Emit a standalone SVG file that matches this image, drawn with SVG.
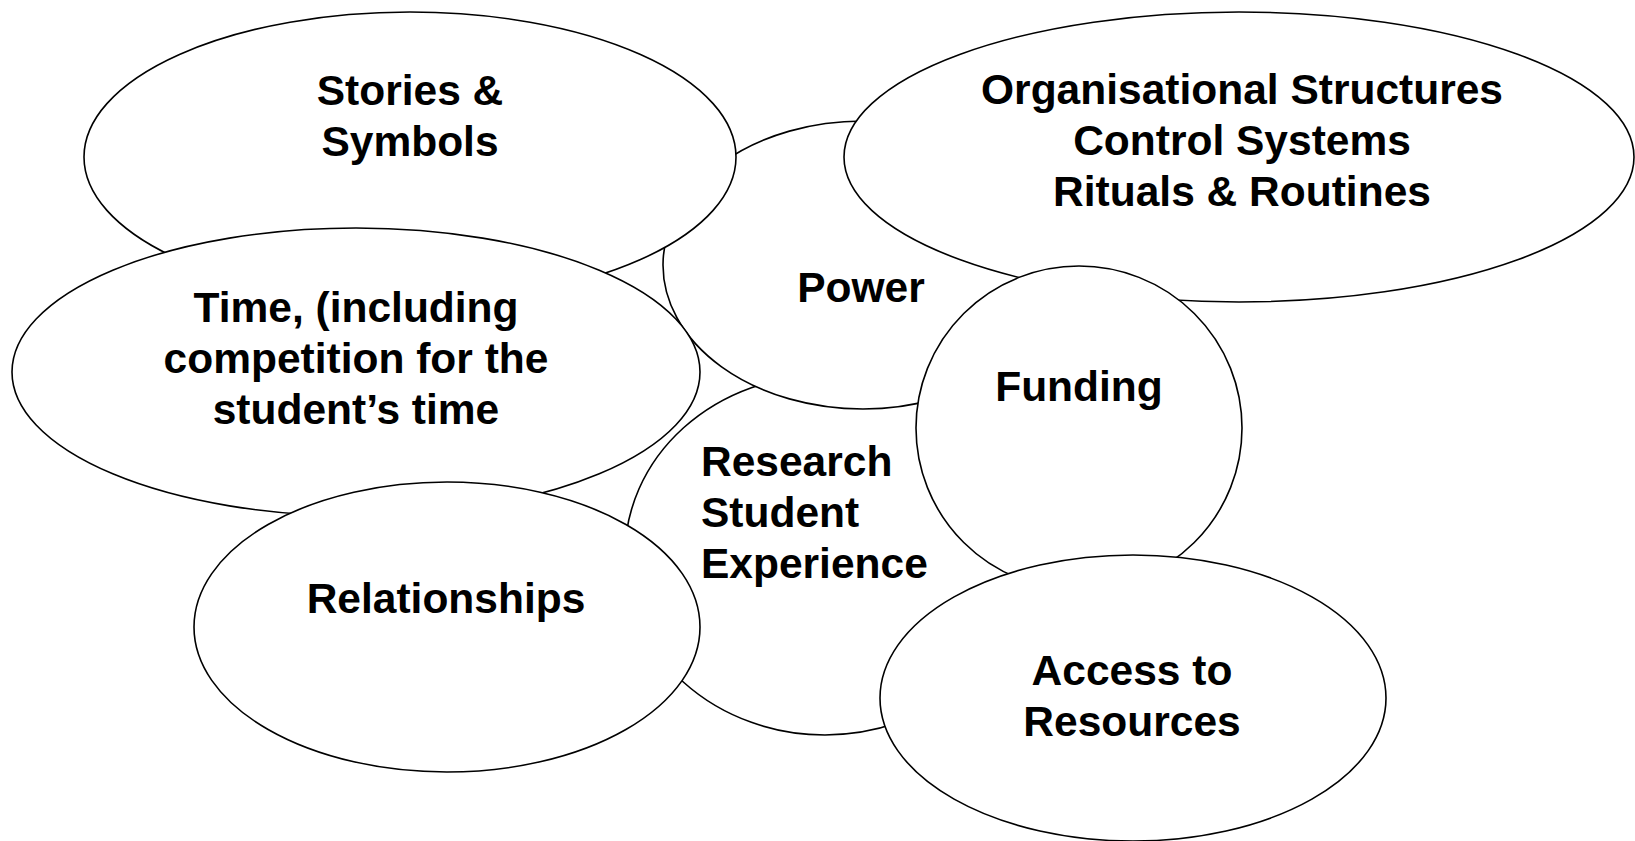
<svg xmlns="http://www.w3.org/2000/svg" width="1635" height="841" viewBox="0 0 1635 841">
<style>
.n{fill:#fff;stroke:#000;stroke-width:1.6}
.t{font-family:"Liberation Sans",Arial,sans-serif;font-weight:bold;font-size:42.5px;fill:#000;text-anchor:middle}
.l{text-anchor:start}
</style>
<rect width="1635" height="841" fill="#fff"/>
<g id="research">
<ellipse class="n" cx="825" cy="555" rx="200" ry="180"/>
</g>
<g id="power">
<ellipse class="n" cx="863" cy="265" rx="200" ry="144"/>
<text class="t" x="861" y="302">Power</text>
</g>
<g id="stories">
<ellipse class="n" cx="410" cy="157" rx="326" ry="145"/>
<text class="t" x="410" y="105">Stories &amp;</text>
<text class="t" x="410" y="156">Symbols</text>
</g>
<g id="org">
<ellipse class="n" cx="1239" cy="157" rx="395" ry="145"/>
<text class="t" x="1242" y="104">Organisational Structures</text>
<text class="t" x="1242" y="155">Control Systems</text>
<text class="t" x="1242" y="206">Rituals &amp; Routines</text>
</g>
<g id="time">
<ellipse class="n" cx="356" cy="372" rx="344" ry="144"/>
<text class="t" x="356" y="322">Time, (including</text>
<text class="t" x="356" y="373">competition for the</text>
<text class="t" x="356" y="424">student’s time</text>
</g>
<g id="funding">
<ellipse class="n" cx="1079" cy="428" rx="163" ry="162"/>
<text class="t" x="1079" y="401">Funding</text>
</g>
<g id="research-label">
<text class="t l" x="701" y="476">Research</text>
<text class="t l" x="701" y="527">Student</text>
<text class="t l" x="701" y="578">Experience</text>
</g>
<g id="relationships">
<ellipse class="n" cx="447" cy="627" rx="253" ry="145"/>
<text class="t" x="446" y="613">Relationships</text>
</g>
<g id="access">
<ellipse class="n" cx="1133" cy="698" rx="253" ry="143"/>
<text class="t" x="1132" y="685">Access to</text>
<text class="t" x="1132" y="736">Resources</text>
</g>
<g id="connectors"/>
</svg>
